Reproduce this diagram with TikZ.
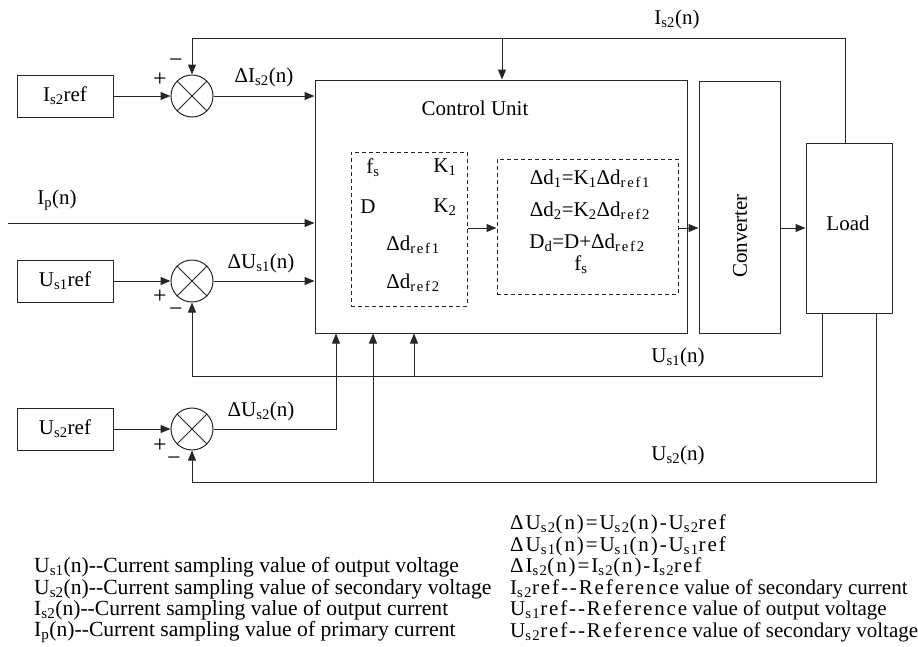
\documentclass[tikz,border=0pt]{standalone}
\usepackage{fontspec}
\setmainfont{Liberation Serif}
\usetikzlibrary{arrows.meta}
\newcommand\sbs[1]{\textsubscript{#1}}
\newcommand\rsub[1]{\textsubscript{\addfontfeatures{LetterSpace=12}#1}}
\newcommand\spc[1]{{\addfontfeatures{LetterSpace=9}#1}}
\begin{document}
\begin{tikzpicture}[x=1pt,y=-1pt,
  every node/.style={font=\fontsize{21}{24}\selectfont, inner sep=0pt},
  ln/.style={line width=1pt, draw=black!85},
  arr/.style={ln, -{Triangle[length=10pt,width=8pt]}},
  box/.style={draw=black!85, line width=1pt, rectangle, inner sep=0pt},
  dbox/.style={draw=black!85, line width=1pt, dashed, dash pattern=on 4pt off 3pt, rectangle, inner sep=0pt},
  sumc/.style={draw=black!85, line width=1pt, circle, minimum size=42pt, inner sep=0pt},
  sgn/.style={font=\fontsize{24}{24}\selectfont},
  lg/.style={anchor=west},
  lgl/.style={anchor=west, font=\fontsize{21.6}{24}\selectfont}]
\useasboundingbox (0,0) rectangle (918,646);
% reference boxes and summing junctions
\node[box, minimum width=96pt, minimum height=42pt] (r1) at (65,96) {I\sbs{s2}ref};
\node[box, minimum width=96pt, minimum height=42pt] (r2) at (65,281) {U\sbs{s1}ref};
\node[box, minimum width=96pt, minimum height=42pt] (r3) at (65,429) {U\sbs{s2}ref};
\node[sumc] (s1) at (192,96) {};
\node[sumc] (s2) at (192,281) {};
\node[sumc] (s3) at (192,429) {};
\foreach \s in {s1,s2,s3}{
  \draw[ln] (\s.north east) -- (\s.south west);
  \draw[ln] (\s.north west) -- (\s.south east);
}
% signs
\node[sgn] (p1) at (160,80) {+};
\node[sgn] (m1) at (176,63) {−};
\node[sgn] (p2) at (160,297) {+};
\node[sgn] (m2) at (176,312) {−};
\node[sgn] (p3) at (160,446) {+};
\node[sgn] (m3) at (174,461) {−};
% main blocks
\node[box, minimum width=372pt, minimum height=253pt] (cu) at (501,206.5) {};
\node (cut) at (475,108) {Control Unit};
\node[box, minimum width=81pt, minimum height=252pt] (conv) at (739.5,207) {};
\node[rotate=90] (convt) at (740,236) {Converter};
\node[box, minimum width=86pt, minimum height=170pt] (load) at (849,228) {};
\node (loadt) at (848,223) {Load};
% dashed boxes
\node[dbox, minimum width=116pt, minimum height=154pt] (db1) at (409,229) {};
\node[dbox, minimum width=181pt, minimum height=135pt] (db2) at (587.5,226.5) {};
\node (fs1) at (373,168) {f\sbs{s}};
\node (k1) at (445,167) {K\sbs{1}};
\node (dd) at (368,207) {D};
\node (k2) at (445,207) {K\sbs{2}};
\node (dr1) at (413,245) {Δd\rsub{ref1}};
\node (dr2) at (413,283) {Δd\rsub{ref2}};
\node (e1) at (590,179) {Δd\sbs{1}=K\sbs{1}Δd\rsub{ref1}};
\node (e2) at (590,211) {Δd\sbs{2}=K\sbs{2}Δd\rsub{ref2}};
\node (e3) at (587,243) {D\sbs{d}=D+Δd\rsub{ref2}};
\node (fs2) at (581,265) {f\sbs{s}};
% internal arrows
\draw[arr] (db1.east |- 0,228) -- (db2.west |- 0,228);
\draw[arr] (db2.east |- 0,228) -- (conv.west |- 0,228);
\draw[arr] (conv.east |- 0,228) -- (load.west |- 0,228);
% inputs
\draw[arr] (r1.east) -- (s1.west);
\draw[arr] (r2.east) -- (s2.west);
\draw[arr] (r3.east) -- (s3.west);
\draw[arr] (s1.east) -- (s1.east -| cu.west);
\draw[arr] (s2.east) -- (s2.east -| cu.west);
\node (lis2) at (264,77) {ΔI\sbs{s2}(n)};
\node (lus1) at (261,263) {ΔU\sbs{s1}(n)};
\node (lus2) at (261,411) {ΔU\sbs{s2}(n)};
\coordinate (ip) at (8,223);
\draw[arr] (ip) -- (ip -| cu.west);
\node (lip) at (57,200) {I\sbs{p}(n)};
\coordinate (c3) at (336,429);
\draw[arr] (s3.east) -- (c3) -- (c3 |- cu.south);
% top feedback Is2
\coordinate (t1) at (845,38);
\coordinate (tb) at (502,38);
\draw[arr] (t1 |- load.north) -- (t1) -- (s1.north |- t1) -- (s1.north);
\draw[arr] (tb) -- (tb |- cu.north);
\node (lt) at (677,19) {I\sbs{s2}(n)};
% Us1 feedback
\coordinate (u1) at (822,376);
\coordinate (b1) at (414,376);
\draw[arr] (u1 |- load.south) -- (u1) -- (s2.south |- u1) -- (s2.south);
\draw[arr] (b1) -- (b1 |- cu.south);
\node (lu1) at (678,357) {U\sbs{s1}(n)};
% Us2 feedback
\coordinate (u2) at (876,482);
\coordinate (b2) at (373,482);
\draw[arr] (u2 |- load.south) -- (u2) -- (s3.south |- u2) -- (s3.south);
\draw[arr] (b2) -- (b2 |- cu.south);
\node (lu2) at (678,455) {U\sbs{s2}(n)};
% legend
\node[lgl] (g1) at (34,567.5) {U\sbs{s1}(n)-{}-Current sampling value of output voltage};
\node[lgl] (g2) at (34,589) {U\sbs{s2}(n)-{}-Current sampling value of secondary voltage};
\node[lgl] (g3) at (34,610.5) {I\sbs{s2}(n)-{}-Current sampling value of output current};
\node[lgl] (g4) at (34,632) {I\sbs{p}(n)-{}-Current sampling value of primary current};
\node[lg] (h1) at (510,524.5) {\spc{ΔU\sbs{s2}(n)=U\sbs{s2}(n)-U\sbs{s2}ref}};
\node[lg] (h2) at (510,546) {\spc{ΔU\sbs{s1}(n)=U\sbs{s1}(n)-U\sbs{s1}ref}};
\node[lg] (h3) at (510,567.5) {\spc{ΔI\sbs{s2}(n)=I\sbs{s2}(n)-I\sbs{s2}ref}};
\node[lg] (h4) at (510,589) {\spc{I\sbs{s2}ref-{}-Reference} value of secondary current};
\node[lg] (h5) at (510,610.5) {\spc{U\sbs{s1}ref-{}-Reference} value of output voltage};
\node[lg] (h6) at (510,632) {\spc{U\sbs{s2}ref-{}-Reference} value of secondary voltage};
\end{tikzpicture}
\end{document}
